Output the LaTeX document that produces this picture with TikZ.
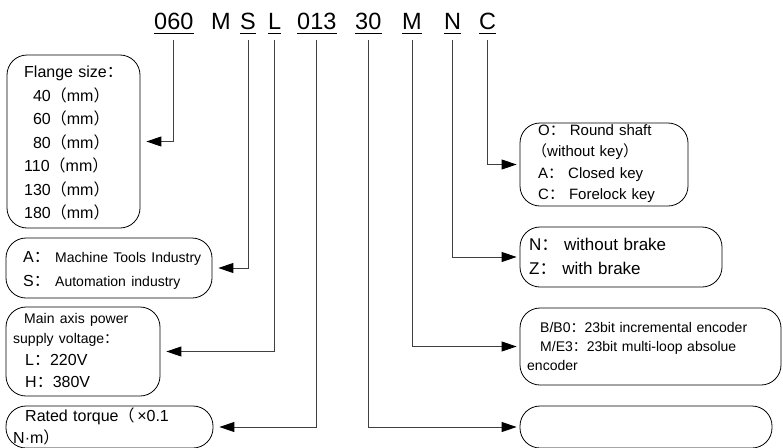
\documentclass[tikz,border=0pt]{standalone}
\usepackage{fontspec}
\setmainfont{Liberation Sans}
\newfontfamily\cjk{Noto Sans CJK SC}
% full-width punctuation
\newcommand\zcol{{\cjk ：}}
\newcommand\zlp{{\cjk （}}
\newcommand\zrp{{\cjk ）}}
\usetikzlibrary{arrows.meta}

\begin{document}
\begin{tikzpicture}[
  x=1pt, y=-1pt,
  >={Triangle[length=15pt, width=10pt, color=black]},
  code/.style={font=\fontsize{23.5}{28}\selectfont, inner sep=0pt, anchor=base west},
  box/.style={draw, rounded corners=20pt, line width=0.8pt, inner sep=0pt},
  txt/.style={inner sep=0pt, anchor=base west, text width=270pt, align=left},
  flow/.style={->, line width=0.9pt, draw=black!75, shorten >=6pt},
  ul/.style={line width=0.9pt},
]
  \useasboundingbox (0,0) rectangle (783,447);

  % model code
  \node[code] (size)   at (154,29) {060};
  \node[code] (series) at (211,29) {M};
  \node[code] (trade)  at (240,29) {S};
  \node[code] (volt)   at (268,29) {L};
  \node[code] (torque) at (297,29) {013};
  \node[code] (speed)  at (355,29) {30};
  \node[code] (enc)    at (402,29) {M};
  \node[code] (brake)  at (444,29) {N};
  \node[code] (shaft)  at (479,29) {C};
  \foreach \s in {size, trade, volt, torque, speed, enc, brake, shaft}
    \draw[ul] ([yshift=-4pt]\s.south west) -- ([yshift=-4pt]\s.south east);

  % left column
  \node[box, minimum width=133pt, minimum height=173pt] (sizebox)   at (73.5,141.5) {};
  \node[box, minimum width=206pt, minimum height=60pt]  (tradebox)  at (109,268) {};
  \node[box, minimum width=154pt, minimum height=89pt]  (voltbox)   at (83,351.5) {};
  \node[box, minimum width=207pt, minimum height=42pt]  (torquebox) at (109.5,427) {};

  \node[txt, font=\fontsize{16}{23.5}\selectfont] (sizetxt) at (24,77.7)
    {Flange size\zcol\\ \phantom{1}40\zlp mm\zrp\\ \phantom{1}60\zlp mm\zrp\\ \phantom{1}80\zlp mm\zrp\\
     110\zlp mm\zrp\\ 130\zlp mm\zrp\\ 180\zlp mm\zrp};
  \node[txt, font=\fontsize{16}{24}\selectfont] (tradetxt) at (23,262.7)
    {A\zcol{\fontsize{14}{24}\selectfont{} Machine Tools Industry}\\
     S\zcol{\fontsize{14}{24}\selectfont{} Automation industry}};
  \node[txt, font=\fontsize{16}{20}\selectfont] (volttxt) at (13,323)
    {{\fontsize{14}{20}\selectfont\hspace*{11pt}Main axis power}\\
     {\fontsize{14}{20}\selectfont supply voltage\zcol}\\[2pt]
     \hspace*{12pt}L\zcol 220V\\[2pt]
     \hspace*{12pt}H\zcol 380V};
  \node[txt, font=\fontsize{16}{22}\selectfont] (torquetxt) at (13,421)
    {\hspace*{12pt}Rated torque\zlp\,×0.1\\N·m\zrp};

  % right column
  \node[box, minimum width=168pt, minimum height=83pt] (shaftbox) at (604,164.5) {};
  \node[box, minimum width=202pt, minimum height=60pt] (brakebox) at (621,257) {};
  \node[box, minimum width=261pt, minimum height=77pt] (encbox)   at (650.5,346.5) {};
  \node[box, minimum width=252pt, minimum height=42pt] (blankbox) at (646,427) {};

  \node[txt, font=\fontsize{15}{21.5}\selectfont] (shafttxt) at (532,135.3)
    {\hspace*{6pt}O\zcol{} Round shaft\\ \zlp without key\zrp\\
     \hspace*{6pt}A\zcol{} Closed key\\ \hspace*{6pt}C\zcol{} Forelock key};
  \node[txt, font=\fontsize{17}{23.3}\selectfont] (braketxt) at (529,250.7)
    {N\zcol{} without brake\\Z\zcol{} with brake};
  \node[txt, font=\fontsize{14}{19}\selectfont] (enctxt) at (527,332)
    {\hspace*{13pt}B/B0\zcol 23bit incremental encoder\\
     \hspace*{13pt}M/E3\zcol 23bit multi-loop absolue\\encoder};

  % leaders from the code letters
  \foreach \c/\b in {size/sizebox, trade/tradebox, volt/voltbox, torque/torquebox}
    \draw[flow] ([yshift=-11pt]\c.south) |- (\b.east);
  \foreach \c/\b in {speed/blankbox, enc/encbox, brake/brakebox, shaft/shaftbox}
    \draw[flow, shorten >=3pt] ([yshift=-11pt]\c.south) |- (\b.west);
\end{tikzpicture}
\end{document}
